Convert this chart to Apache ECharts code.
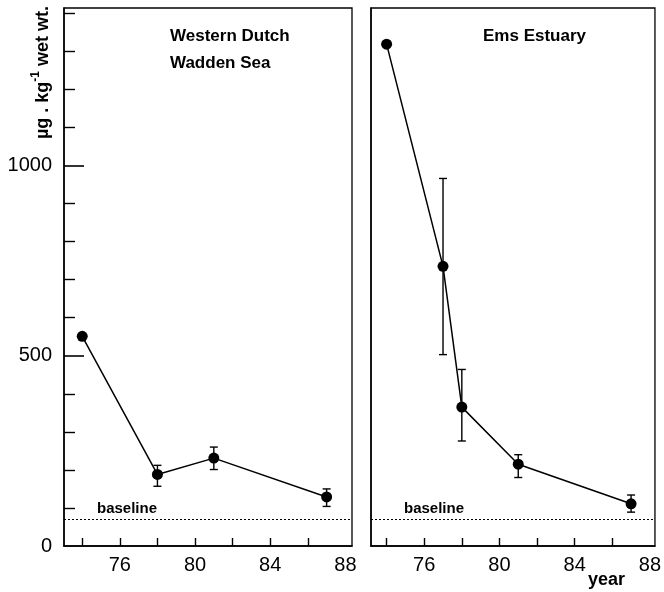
<!DOCTYPE html>
<html>
<head>
<meta charset="utf-8">
<script src="https://cdn.jsdelivr.net/npm/echarts@6/dist/echarts.min.js"></script>
<style>html,body{margin:0;padding:0;background:#fff}#c{width:664px;height:592px}</style>
</head>
<body>
<div id="c"></div>
<script>
// ---- data ----
const leftYears = [74, 78, 81, 87];
const leftValues = [551, 188, 231, 129];
const leftErrLow = [null, 157, 201, 104];
const leftErrHigh = [null, 212, 260, 150];

const rightYears = [74, 77, 78, 81, 87];
const rightValues = [1319, 735, 365, 215, 111];
const rightErrLow = [null, 503, 276, 180, 89];
const rightErrHigh = [null, 966, 464, 240, 134];

const baselineValue = 70;
const panelTitles = ['Western Dutch\nWadden Sea', 'Ems Estuary'];
const xTickValues = [74, 76, 78, 80, 82, 84, 86];
const xLabelValues = [76, 80, 84, 88];
const yMinorTicks = [100, 200, 300, 400, 600, 700, 800, 900, 1100, 1200, 1300, 1400];
const yMajorTicks = [500, 1000];
const yLabelValues = [0, 500, 1000];

// ---- chart ----
const FONT = '"Liberation Sans", Arial, sans-serif';
const Y_MAX = 1414;
const chart = echarts.init(document.getElementById('c'), null, {renderer: 'canvas'});

function pts(xs, ys) { return xs.map((x, i) => [x, ys[i]]); }
function errs(xs, lo, hi) {
  const out = [];
  xs.forEach((x, i) => { if (lo[i] != null) out.push([x, lo[i], hi[i]]); });
  return out;
}
function errRender(params, api) {
  const x = api.value(0);
  const a = api.coord([x, api.value(2)]);
  const b = api.coord([x, api.value(1)]);
  const w = 4;
  const st = {stroke: '#000', lineWidth: 1.4};
  return {type: 'group', children: [
    {type: 'line', shape: {x1: a[0], y1: a[1], x2: b[0], y2: b[1]}, style: st},
    {type: 'line', shape: {x1: a[0] - w, y1: a[1], x2: a[0] + w, y2: a[1]}, style: st},
    {type: 'line', shape: {x1: b[0] - w, y1: b[1], x2: b[0] + w, y2: b[1]}, style: st}
  ]};
}
function xAxis(gi, min, max) {
  return {
    type: 'value', gridIndex: gi, min: min, max: max, position: 'bottom',
    axisLine: {show: true, lineStyle: {color: '#000', width: 1.5}},
    axisTick: {show: true, inside: true, length: 8, customValues: xTickValues, lineStyle: {color: '#000', width: 1.4}},
    axisLabel: {show: true, customValues: xLabelValues, color: '#000', fontSize: 20, fontFamily: FONT, margin: 9,
      formatter: v => String(v)},
    splitLine: {show: false}
  };
}
function baseLine() {
  return {
    silent: true, symbol: 'none',
    lineStyle: {type: [2, 2], color: '#000', width: 1.2},
    label: {show: true, formatter: 'baseline', position: 'insideStartTop', distance: 3,
      padding: [0, 0, 0, 30], color: '#000', fontSize: 15, fontWeight: 'bold', fontFamily: FONT},
    data: [{yAxis: baselineValue}]
  };
}

const option = {
  backgroundColor: '#fff',
  animation: false,
  title: [
    {text: panelTitles[0], left: 165, top: 18,
      textStyle: {fontSize: 17, fontWeight: 'bold', fontFamily: FONT, color: '#000', lineHeight: 27}},
    {text: panelTitles[1], left: 478, top: 18,
      textStyle: {fontSize: 17, fontWeight: 'bold', fontFamily: FONT, color: '#000', lineHeight: 27}},
    {text: 'year', left: 583, top: 566,
      textStyle: {fontSize: 18, fontWeight: 'bold', fontFamily: FONT, color: '#000'}}
  ],
  grid: [
    {left: 64, top: 8, width: 288, height: 538, show: true, borderColor: '#000', borderWidth: 1.3},
    {left: 371, top: 8, width: 285, height: 538, show: true, borderColor: '#000', borderWidth: 1.3}
  ],
  xAxis: [xAxis(0, 73.03, 88.35), xAxis(1, 73.17, 88.27)],
  yAxis: [
    {type: 'value', gridIndex: 0, min: 0, max: Y_MAX, position: 'left',
      axisLine: {show: true, lineStyle: {color: '#000', width: 1.5}},
      axisTick: {show: true, inside: true, length: 11, customValues: yMinorTicks, lineStyle: {color: '#000', width: 1.4}},
      axisLabel: {show: false}, splitLine: {show: false},
      name: '{a|µg . kg}{s|-1}{a| wet wt.}', nameLocation: 'end', nameRotate: 90, nameGap: 0,
      nameTextStyle: {align: 'right', verticalAlign: 'bottom', padding: [0, -2, 12, 0],
        rich: {
          a: {fontSize: 18, fontWeight: 'bold', fontFamily: FONT, color: '#000', lineHeight: 22, verticalAlign: 'bottom'},
          s: {fontSize: 12, fontWeight: 'bold', fontFamily: FONT, color: '#000', lineHeight: 15, verticalAlign: 'top'}
        }}
    },
    {type: 'value', gridIndex: 0, min: 0, max: Y_MAX, position: 'left', offset: 0,
      axisLine: {show: false},
      axisTick: {show: true, inside: true, length: 20, customValues: yMajorTicks, lineStyle: {color: '#000', width: 1.6}},
      axisLabel: {show: true, customValues: yLabelValues, color: '#000', fontSize: 20, fontFamily: FONT, margin: 12,
        formatter: v => String(v)},
      splitLine: {show: false}
    },
    {type: 'value', gridIndex: 1, min: 0, max: Y_MAX, position: 'left',
      axisLine: {show: true, lineStyle: {color: '#000', width: 1.5}},
      axisTick: {show: false}, axisLabel: {show: false}, splitLine: {show: false}
    }
  ],
  series: [
    {type: 'custom', xAxisIndex: 0, yAxisIndex: 0, renderItem: errRender,
      data: errs(leftYears, leftErrLow, leftErrHigh), z: 3},
    {type: 'line', xAxisIndex: 0, yAxisIndex: 0, data: pts(leftYears, leftValues),
      symbol: 'circle', symbolSize: 11, itemStyle: {color: '#000'},
      lineStyle: {color: '#000', width: 1.5}, z: 4, markLine: baseLine()},
    {type: 'custom', xAxisIndex: 1, yAxisIndex: 2, renderItem: errRender,
      data: errs(rightYears, rightErrLow, rightErrHigh), z: 3},
    {type: 'line', xAxisIndex: 1, yAxisIndex: 2, data: pts(rightYears, rightValues),
      symbol: 'circle', symbolSize: 11, itemStyle: {color: '#000'},
      lineStyle: {color: '#000', width: 1.5}, z: 4, markLine: baseLine()}
  ]
};
chart.setOption(option);
</script>
</body>
</html>
